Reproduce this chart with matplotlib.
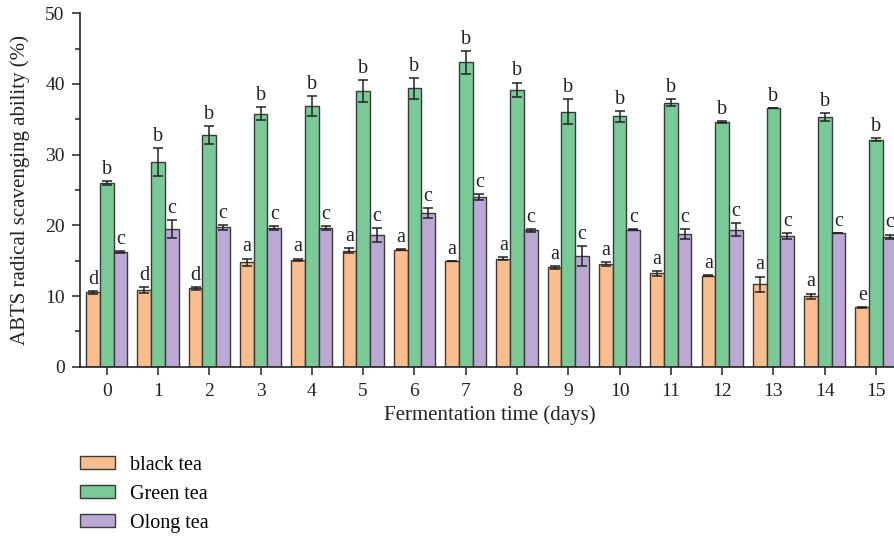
import matplotlib
matplotlib.use("Agg")
import matplotlib.pyplot as plt
import numpy as np

days = list(range(16))
black = [10.5, 10.85, 11.1, 14.8, 15.1, 16.4, 16.55, 14.95, 15.3, 14.05, 14.5, 13.2, 12.9, 11.65, 9.95, 8.4]
black_err = [0.2, 0.4, 0.2, 0.5, 0.2, 0.35, 0.05, 0.05, 0.2, 0.2, 0.3, 0.3, 0.1, 1.1, 0.4, 0.05]
green = [26.0, 29.0, 32.8, 35.8, 36.9, 39.0, 39.4, 43.07, 39.2, 36.1, 35.4, 37.35, 34.6, 36.6, 35.3, 32.1]
green_err = [0.3, 2.0, 1.3, 0.9, 1.45, 1.6, 1.5, 1.65, 1.0, 1.8, 0.8, 0.5, 0.15, 0.05, 0.6, 0.2]
olong = [16.2, 19.5, 19.7, 19.6, 19.6, 18.6, 21.75, 24.0, 19.3, 15.7, 19.4, 18.8, 19.4, 18.5, 18.9, 18.4]
olong_err = [0.15, 1.25, 0.4, 0.3, 0.3, 1.0, 0.7, 0.45, 0.2, 1.4, 0.05, 0.7, 0.9, 0.4, 0.05, 0.3]
black_letters = ["d", "d", "d"] + ["a"] * 12 + ["e"]
green_letters = ["b"] * 16
olong_letters = ["c"] * 16
series_names = ["black tea", "Green tea", "Olong tea"]
colors = ["#F9BD8E", "#79CA96", "#BBA9D3"]

plt.rcParams['font.family'] = ['Liberation Serif', 'DejaVu Serif']

fig = plt.figure(figsize=(8.95, 5.42), dpi=100)
ax = fig.add_axes([80/895, 1-366.7/542, 1-80/895, (366.7-13.3)/542])

x = np.arange(len(days))
w = 0.268
data = [(black, black_err, black_letters), (green, green_err, green_letters), (olong, olong_err, olong_letters)]
for i, (vals, errs, lets) in enumerate(data):
    xs = x + (i-1)*w
    ax.bar(xs, vals, width=w, color=colors[i], edgecolor='#3a3a3a', linewidth=1.0,
           label=series_names[i], zorder=2)
    ax.errorbar(xs, vals, yerr=errs, fmt='none', ecolor='#222222', elinewidth=1.1,
                capsize=3.5, capthick=1.1, zorder=3)
    for xx, v, e, l in zip(xs, vals, errs, lets):
        ax.annotate(l, (xx, v+e), xytext=(0, 1.5), textcoords='offset points',
                    ha='center', va='bottom', fontsize=14.5, color='#222222')

ax.set_xlim(-0.52, 15.37)
ax.set_ylim(0, 50)
ax.set_xticks(x)
ax.set_xticklabels([str(d) for d in days])
ax.set_yticks([0, 10, 20, 30, 40, 50])
ax.set_yticks([5, 15, 25, 35, 45], minor=True)
ax.spines['top'].set_visible(False)
ax.spines['right'].set_visible(False)
for s in ['left', 'bottom']:
    ax.spines[s].set_linewidth(1.2)
    ax.spines[s].set_color('#222222')
ax.tick_params(axis='both', which='major', direction='out', length=6, width=1.1, labelsize=14, colors='#222222')
ax.tick_params(axis='y', which='minor', direction='out', length=3.5, width=1.1, colors='#222222')
ax.tick_params(axis='x', pad=6)
ax.tick_params(axis='y', pad=5)
ax.set_xlabel("Fermentation time (days)", fontsize=15, color='#222222')
ax.set_ylabel("ABTS radical scavenging ability (%)", fontsize=15, color='#222222')
ax.xaxis.set_label_coords((490-80)/815, (366.7-415)/353.4)
ax.xaxis.label.set_va('center')
ax.yaxis.set_label_coords((20-80)/815, (366.7-190)/353.4)
ax.yaxis.label.set_va('center')

fig.legend(loc='upper left', bbox_to_anchor=(80/895, 1-455.5/542), frameon=False,
           fontsize=14.5, handlelength=1.74, handleheight=0.65, labelspacing=0.5,
           handletextpad=0.75, borderpad=0, borderaxespad=0)

fig.savefig("out.png", dpi=100)
